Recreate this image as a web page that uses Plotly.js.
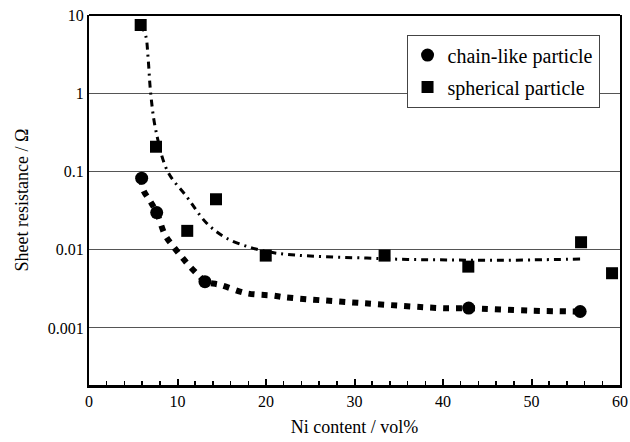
<!DOCTYPE html>
<html>
<head>
<meta charset="utf-8">
<script src="https://cdn.plot.ly/plotly-3.0.1.min.js"></script>
<style>html,body{margin:0;padding:0;background:#fff;}#chart{width:630px;height:442px;}</style>
</head>
<body>
<div id="chart"></div>
<script>
// Measured data points
const chainX = [5.95, 7.65, 13.1, 42.9, 55.5];
const chainY = [0.082, 0.0298, 0.0039, 0.00179, 0.00162];
const sphX = [5.84, 7.57, 11.1, 14.35, 19.97, 33.4, 42.86, 55.6, 59.1];
const sphY = [7.45, 0.207, 0.0174, 0.0441, 0.0084, 0.0084, 0.00607, 0.01245, 0.005];

// Fitted curves
const chainFitX = [5.95, 6.14, 6.9, 7.65, 8.59, 9.53, 10.47, 11.4, 12.54, 13.1, 14.8, 17.8, 20.8, 22, 31, 39.85, 42.9, 50, 55.5];
const chainFitY = [0.082, 0.058, 0.042, 0.0298, 0.0155, 0.011, 0.0081, 0.0061, 0.0045, 0.0039, 0.00355, 0.00277, 0.00259, 0.00247, 0.00207, 0.00179, 0.00178, 0.00166, 0.00162];
const sphFitX = [5.84, 6.4, 6.67, 6.97, 7.54, 8.89, 11.04, 13.3, 15.56, 18.57, 21.2, 25, 31.4, 36, 40.4, 45, 50, 55.5];
const sphFitY = [7.45, 5.5, 2.9, 1.0, 0.34, 0.1, 0.0476, 0.0218, 0.014, 0.0104, 0.009, 0.0083, 0.0078, 0.0075, 0.0074, 0.0073, 0.0074, 0.0076];

const yTickVals = [0.001, 0.01, 0.1, 1, 10];
const yTickText = ['0.001', '0.01', '0.1', '1', '10'];
const xTickVals = [0, 10, 20, 30, 40, 50, 60];

const seriesNames = ['chain-like particle', 'spherical particle'];

const font = 'Liberation Serif';

const traces = [
  {x: sphFitX, y: sphFitY, mode: 'lines', line: {shape: 'spline', color: '#000', width: 3, dash: '7px,5px,2px,5px'}, showlegend: false, hoverinfo: 'skip'},
  {x: chainFitX, y: chainFitY, mode: 'lines', line: {shape: 'spline', color: '#000', width: 6, dash: '6px,7px'}, showlegend: false, hoverinfo: 'skip'},
  {x: chainX, y: chainY, mode: 'markers', name: seriesNames[0], legendgroup: 'a', marker: {symbol: 'circle', size: 13, color: '#000'}},
  {x: sphX, y: sphY, mode: 'markers', name: seriesNames[1], legendgroup: 'b', marker: {symbol: 'square', size: 12, color: '#000'}}
];

const layout = {
  width: 630, height: 442,
  margin: {l: 89, r: 10, t: 15, b: 57},
  paper_bgcolor: '#fff', plot_bgcolor: '#fff',
  font: {family: font, color: '#000', size: 16},
  showlegend: true,
  legend: {
    x: 0.598, y: 0.947, xanchor: 'left', yanchor: 'top',
    bgcolor: '#fff', bordercolor: '#444', borderwidth: 1,
    font: {family: font, size: 20, color: '#000'},
    traceorder: 'grouped', tracegroupgap: 3, itemwidth: 30
  },
  xaxis: {
    range: [0, 60], tickvals: xTickVals,
    showline: true, linecolor: '#000', linewidth: 3,
    ticks: 'inside', ticklen: 6, tickwidth: 2, tickcolor: '#000',
    minor: {dtick: 2, ticks: 'inside', ticklen: 4, tickwidth: 1.5, tickcolor: '#000', showgrid: false},
    showgrid: false, zeroline: false,
    tickfont: {family: font, size: 16, color: '#000'},
    title: {text: 'Ni content / vol%', font: {family: font, size: 18, color: '#000'}, standoff: 12}
  },
  yaxis: {
    type: 'log', range: [-3.73, 1],
    tickvals: yTickVals, ticktext: yTickText,
    showline: true, linecolor: '#000', linewidth: 2, mirror: true,
    ticks: '', showgrid: true, gridcolor: '#555', gridwidth: 1,
    zeroline: false,
    tickfont: {family: font, size: 16, color: '#000'},
    title: {text: 'Sheet resistance / Ω', font: {family: font, size: 18, color: '#000'}, standoff: 14}
  },
  shapes: [
    {type: 'line', xref: 'paper', yref: 'paper', x0: 0, x1: 1, y0: 1, y1: 1, line: {color: '#000', width: 2}}
  ]
};

Plotly.newPlot('chart', traces, layout, {displayModeBar: false, staticPlot: true});
</script>
</body>
</html>
